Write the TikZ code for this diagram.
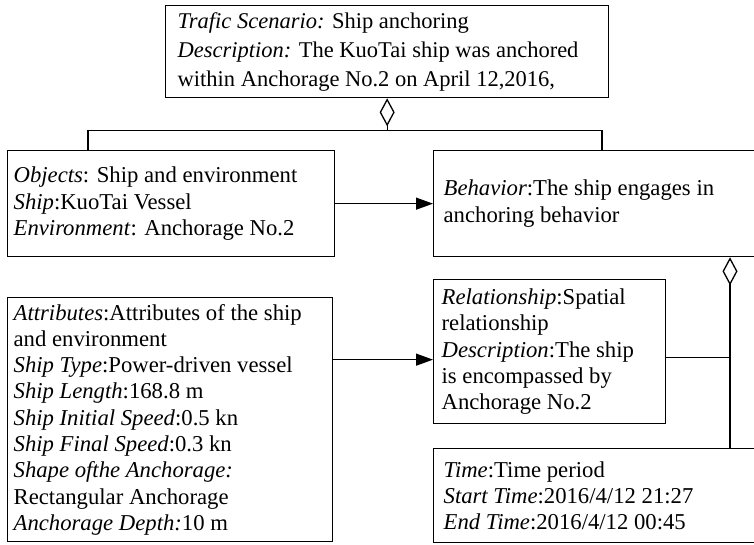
\documentclass[tikz,border=0pt]{standalone}
\usepackage{fontspec}
\setmainfont{Liberation Serif}
\usetikzlibrary{arrows.meta,calc}
\tikzset{
  frame/.style 2 args={draw, anchor=north west, minimum width=#1, minimum height=#2, inner sep=0pt},
  txt/.style={anchor=west, align=left, inner sep=0pt, font=\fontsize{22.7}{26.3}\selectfont},
  txttop/.style={txt, font=\fontsize{22.5}{29}\selectfont},
  arr/.style={-{Triangle[length=17pt,width=12pt]}},
  agg/.style={{Diamond[open,length=28pt,width=15pt]}-},
}
\begin{document}
\begin{tikzpicture}[x=1pt,y=-1pt,line width=1.3pt]
\useasboundingbox (0,0) rectangle (754,544);
% frames
\node[frame={443pt}{92pt}] (top) at (165,5) {};
\node[frame={327pt}{106pt}] (obj) at (7,150) {};
\node[frame={330pt}{106pt}] (beh) at (433,150) {};
\node[frame={325pt}{244pt}] (attr) at (7,297) {};
\node[frame={232pt}{144pt}] (rel) at (433,279) {};
\node[frame={330pt}{94pt}] (time) at (433,448) {};
% texts
\node[txttop] (ttop) at ([xshift=12pt]top.west) {\textit{Trafic Scenario:} Ship anchoring\\ \textit{Description:} The KuoTai ship was anchored\\ within Anchorage No.2 on April 12,2016,};
\node[txt] (tobj) at ([xshift=6pt]obj.west) {\textit{Objects}: Ship and environment\\ \textit{Ship}:KuoTai Vessel\\ \textit{Environment}: Anchorage No.2};
\node[txt] (tbeh) at ([xshift=10pt]beh.west) {\textit{Behavior}:The ship engages in\\ anchoring behavior};
\node[txt] (tattr) at ([xshift=6pt]attr.west) {\textit{Attributes}:Attributes of the ship\\ and environment\\ \textit{Ship Type}:Power-driven vessel\\ \textit{Ship Length}:168.8 m\\ \textit{Ship Initial Speed}:0.5 kn\\ \textit{Ship Final Speed}:0.3 kn\\ \textit{Shape ofthe Anchorage:}\\ Rectangular Anchorage\\ \textit{Anchorage Depth:}10 m};
\node[txt] (trel) at ([xshift=8pt]rel.west) {\textit{Relationship}:Spatial\\ relationship\\ \textit{Description}:The ship\\ is encompassed by\\ Anchorage No.2};
\node[txt] (ttime) at ([xshift=10pt]time.west) {\textit{Time}:Time period\\ \textit{Start Time}:2016/4/12 21:27\\ \textit{End Time}:2016/4/12 00:45};
% connectors
\coordinate (j1) at ($(top.south)+(0,32)$);
\draw[agg] (top.south) -- (j1);
\draw (j1) -| ([xshift=81pt]obj.north west);
\draw (j1) -| ([xshift=169pt]beh.north west);
\draw[arr] (obj.east) -- (beh.west);
\coordinate (rr) at ([yshift=-8pt]rel.west);
\draw[arr] (attr.east |- rr) -- (rr);
\coordinate (d2) at ([xshift=297pt]beh.south west);
\draw[agg] (d2) -- (d2 |- time.north);
\coordinate (re) at ([yshift=-6pt]rel.east);
\draw (re) -- (d2 |- re);
\end{tikzpicture}
\end{document}
